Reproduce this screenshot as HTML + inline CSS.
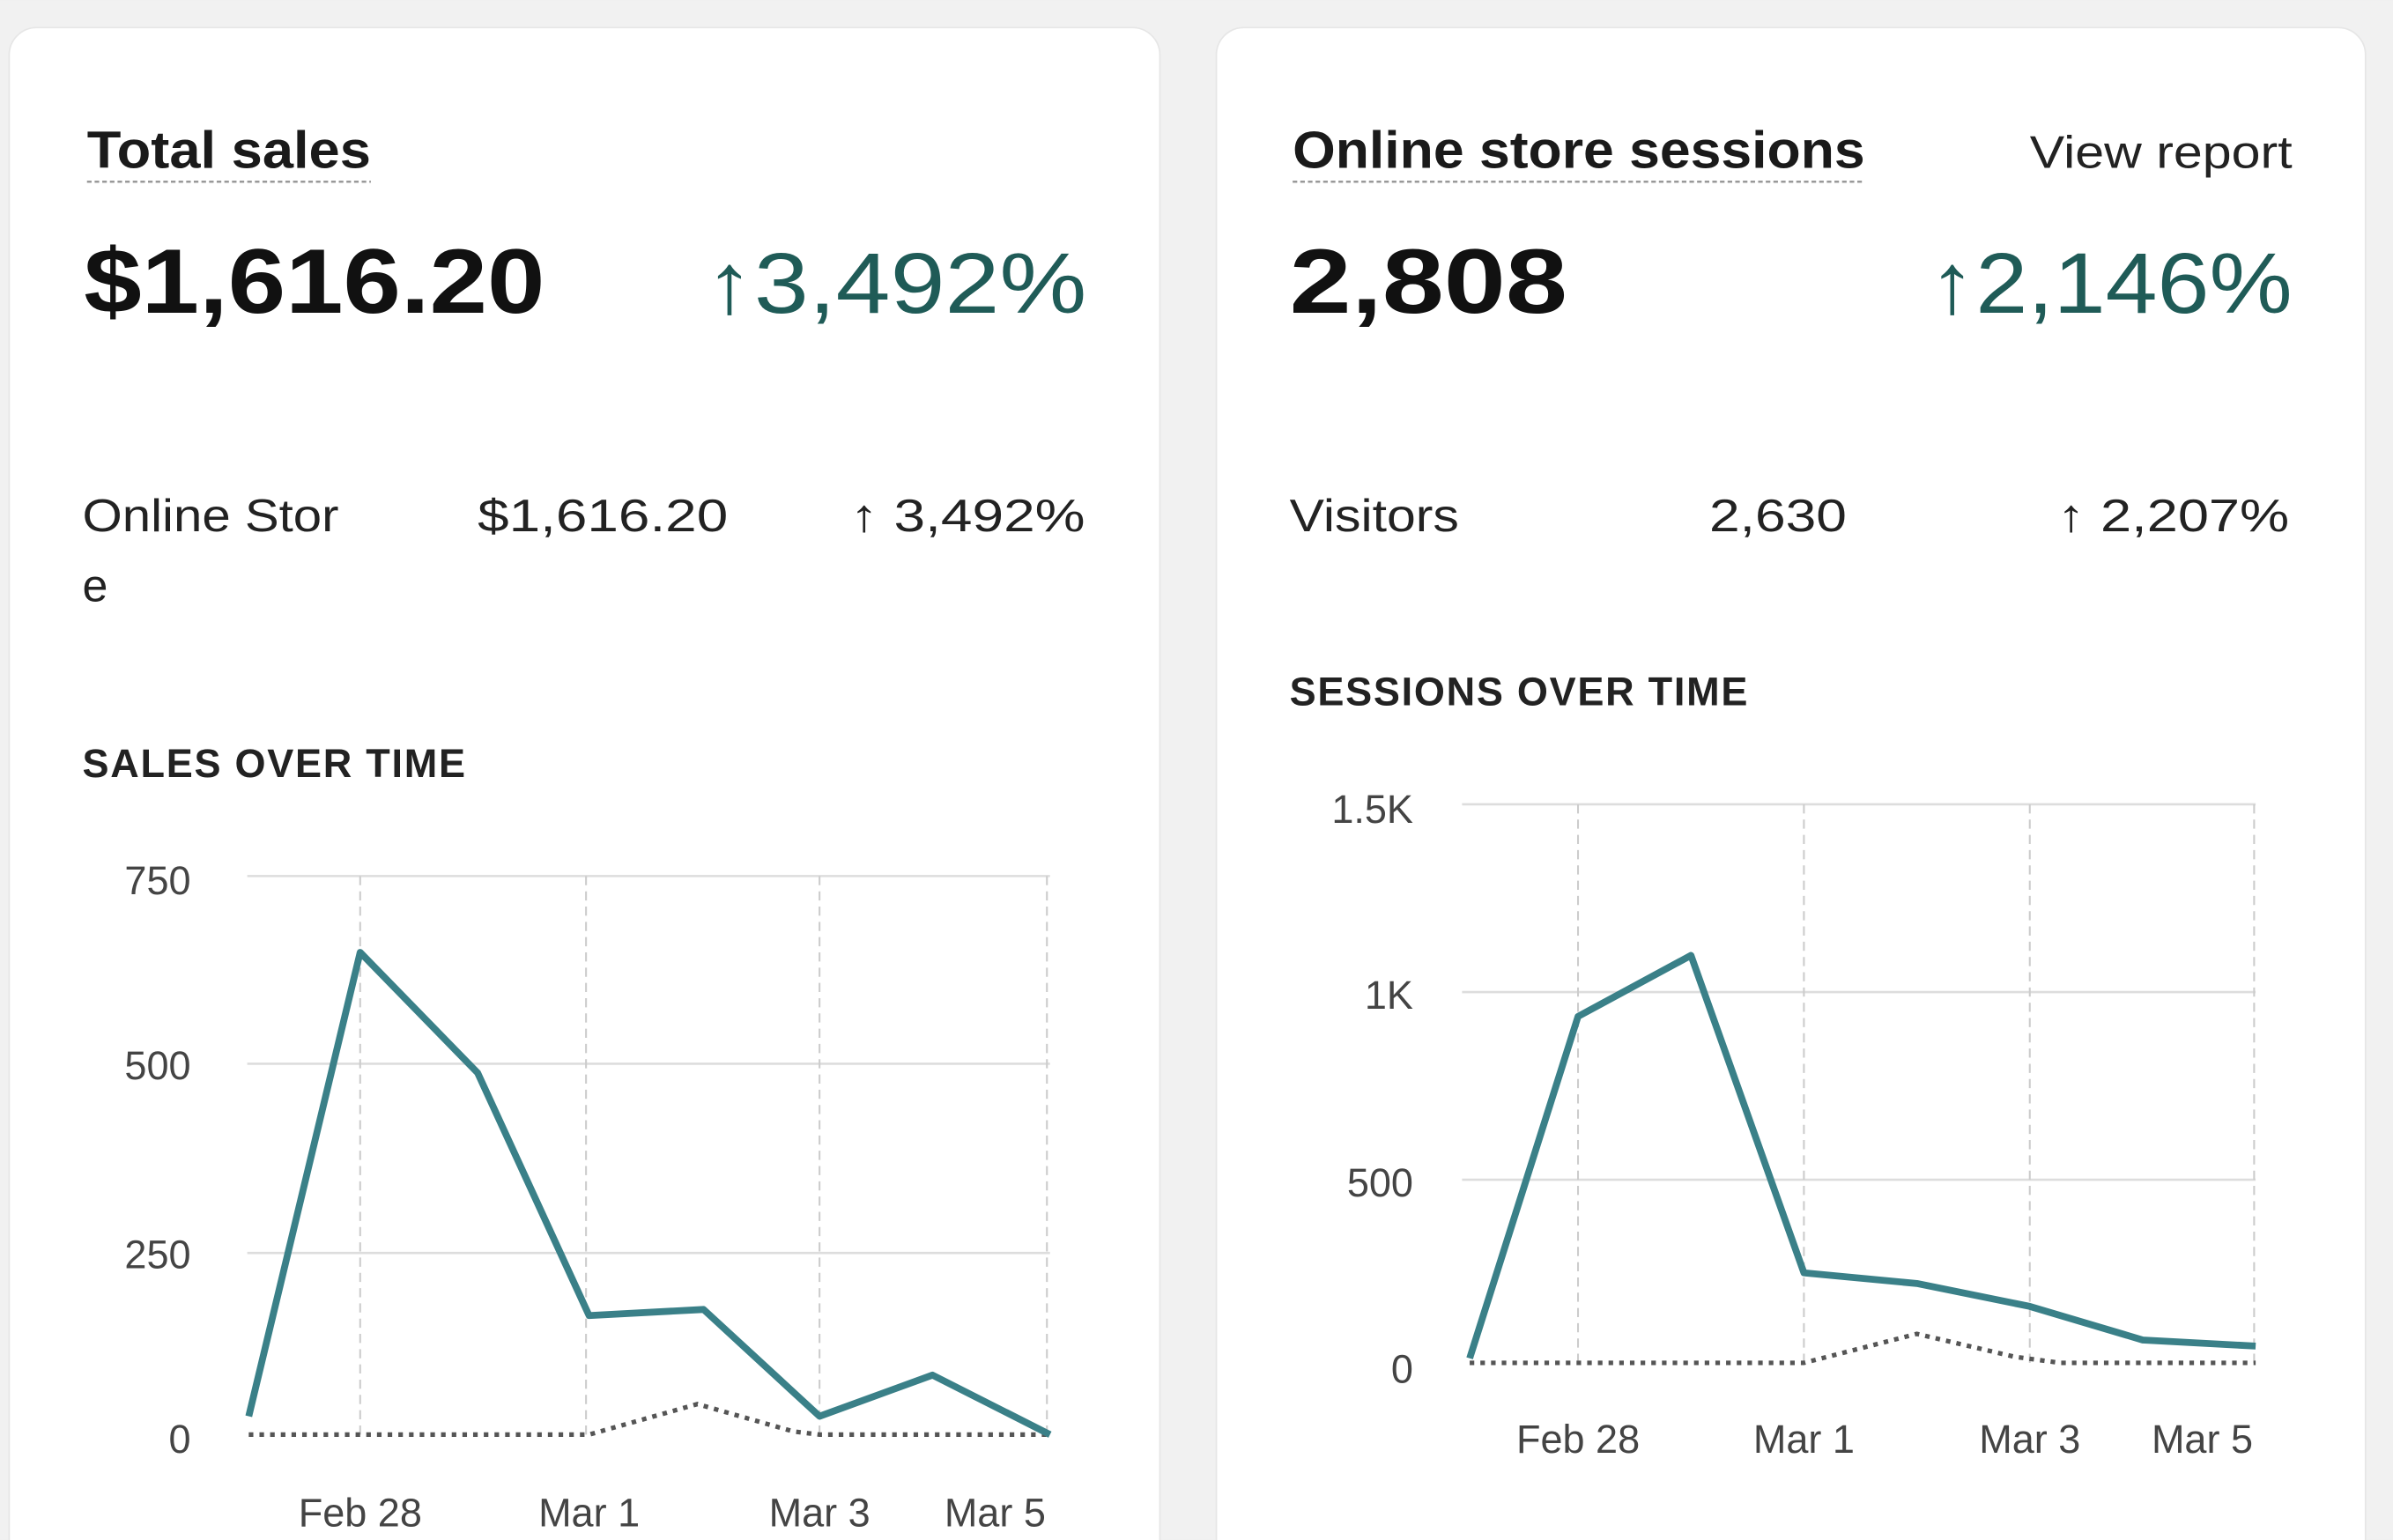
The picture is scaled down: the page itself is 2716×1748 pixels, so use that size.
<!DOCTYPE html>
<html><head><meta charset="utf-8"><style>
html,body{margin:0;padding:0;background:#f1f1f1;}
svg{display:block;}
text{font-family:"Liberation Sans",sans-serif;}
</style></head><body>
<svg width="2716" height="1748" viewBox="0 0 1568 1009" xmlns="http://www.w3.org/2000/svg">
<rect x="0" y="0" width="1568" height="1009" fill="#f1f1f1"/>
<rect x="6" y="18" width="754" height="1020" rx="18" fill="#fff" stroke="#e6e6e6"/>
<rect x="797" y="18" width="753" height="1020" rx="18" fill="#fff" stroke="#e6e6e6"/>

<!-- Left card -->
<text x="57" y="110" font-size="34" font-weight="bold" fill="#1a1a1a" textLength="186" lengthAdjust="spacingAndGlyphs">Total sales</text>
<line x1="57" y1="119" x2="243" y2="119" stroke="#999" stroke-width="1.5" stroke-dasharray="3,2"/>
<text x="55" y="205" font-size="60" font-weight="bold" fill="#111" textLength="302" lengthAdjust="spacingAndGlyphs">$1,616.20</text>
<text x="712" y="205" font-size="56" fill="#1f5b57" text-anchor="end" textLength="250" lengthAdjust="spacingAndGlyphs">↑3,492%</text>
<text x="54" y="348" font-size="30" fill="#222" textLength="168" lengthAdjust="spacingAndGlyphs">Online Stor</text>
<text x="54" y="394" font-size="30" fill="#222">e</text>
<text x="313" y="348" font-size="30" fill="#222" textLength="164" lengthAdjust="spacingAndGlyphs">$1,616.20</text>
<text x="711" y="348" font-size="30" fill="#222" text-anchor="end" textLength="154" lengthAdjust="spacingAndGlyphs">↑ 3,492%</text>
<text x="54" y="509" font-size="26" font-weight="bold" fill="#222" letter-spacing="1">SALES OVER TIME</text>
<g font-size="26" fill="#444" text-anchor="end">
<text x="125" y="586">750</text><text x="125" y="707">500</text><text x="125" y="831">250</text><text x="125" y="952">0</text>
</g>
<g stroke="#ddd" stroke-width="1.5">
<line x1="162" y1="574" x2="688" y2="574"/><line x1="162" y1="697" x2="688" y2="697"/><line x1="162" y1="821" x2="688" y2="821"/>
</g>
<g stroke="#ccc" stroke-width="1.2" stroke-dasharray="6,4">
<line x1="236" y1="574" x2="236" y2="940"/><line x1="384" y1="574" x2="384" y2="940"/><line x1="537" y1="574" x2="537" y2="940"/><line x1="686" y1="574" x2="686" y2="940"/>
</g>
<g font-size="26" fill="#444" text-anchor="middle">
<text x="236" y="1000">Feb 28</text><text x="386" y="1000">Mar 1</text><text x="537" y="1000">Mar 3</text><text x="652" y="1000">Mar 5</text>
</g>
<polyline points="163,940 386,940 457,920 520,938 537,940 688,940" fill="none" stroke="#555" stroke-width="3" stroke-dasharray="3,4"/>
<polyline points="163,928 236,624 313,703 386,862 461,858 537,928 611,901 688,940" fill="none" stroke="#3a8088" stroke-width="4.5" stroke-linejoin="round"/>

<!-- Right card -->
<text x="847" y="110" font-size="34" font-weight="bold" fill="#1a1a1a" textLength="375" lengthAdjust="spacingAndGlyphs">Online store sessions</text>
<line x1="847" y1="119" x2="1222" y2="119" stroke="#999" stroke-width="1.5" stroke-dasharray="3,2"/>
<text x="1502" y="110" font-size="30" fill="#222" text-anchor="end" textLength="172" lengthAdjust="spacingAndGlyphs">View report</text>
<text x="845" y="205" font-size="60" font-weight="bold" fill="#111" textLength="182" lengthAdjust="spacingAndGlyphs">2,808</text>
<text x="1502" y="205" font-size="56" fill="#1f5b57" text-anchor="end" textLength="238" lengthAdjust="spacingAndGlyphs">↑2,146%</text>
<text x="845" y="348" font-size="30" fill="#222" textLength="111" lengthAdjust="spacingAndGlyphs">Visitors</text>
<text x="1120" y="348" font-size="30" fill="#222" textLength="90" lengthAdjust="spacingAndGlyphs">2,630</text>
<text x="1500" y="348" font-size="30" fill="#222" text-anchor="end" textLength="152" lengthAdjust="spacingAndGlyphs">↑ 2,207%</text>
<text x="845" y="462" font-size="26" font-weight="bold" fill="#222" letter-spacing="1">SESSIONS OVER TIME</text>
<g font-size="26" fill="#444" text-anchor="end">
<text x="926" y="539">1.5K</text><text x="926" y="661">1K</text><text x="926" y="784">500</text><text x="926" y="906">0</text>
</g>
<g stroke="#ddd" stroke-width="1.5">
<line x1="958" y1="527" x2="1478" y2="527"/><line x1="958" y1="650" x2="1478" y2="650"/><line x1="958" y1="773" x2="1478" y2="773"/>
</g>
<g stroke="#ccc" stroke-width="1.2" stroke-dasharray="6,4">
<line x1="1034" y1="527" x2="1034" y2="893"/><line x1="1182" y1="527" x2="1182" y2="893"/><line x1="1330" y1="527" x2="1330" y2="893"/><line x1="1477" y1="527" x2="1477" y2="893"/>
</g>
<g font-size="26" fill="#444" text-anchor="middle">
<text x="1034" y="952">Feb 28</text><text x="1182" y="952">Mar 1</text><text x="1330" y="952">Mar 3</text><text x="1443" y="952">Mar 5</text>
</g>
<polyline points="963,893 1182,893 1256,874 1320,889 1350,893 1478,893" fill="none" stroke="#555" stroke-width="3" stroke-dasharray="3,4"/>
<polyline points="963,890 1034,666 1108,626 1182,834 1256,841 1330,856 1404,878 1478,882" fill="none" stroke="#3a8088" stroke-width="4.5" stroke-linejoin="round"/>
</svg>
</body></html>
